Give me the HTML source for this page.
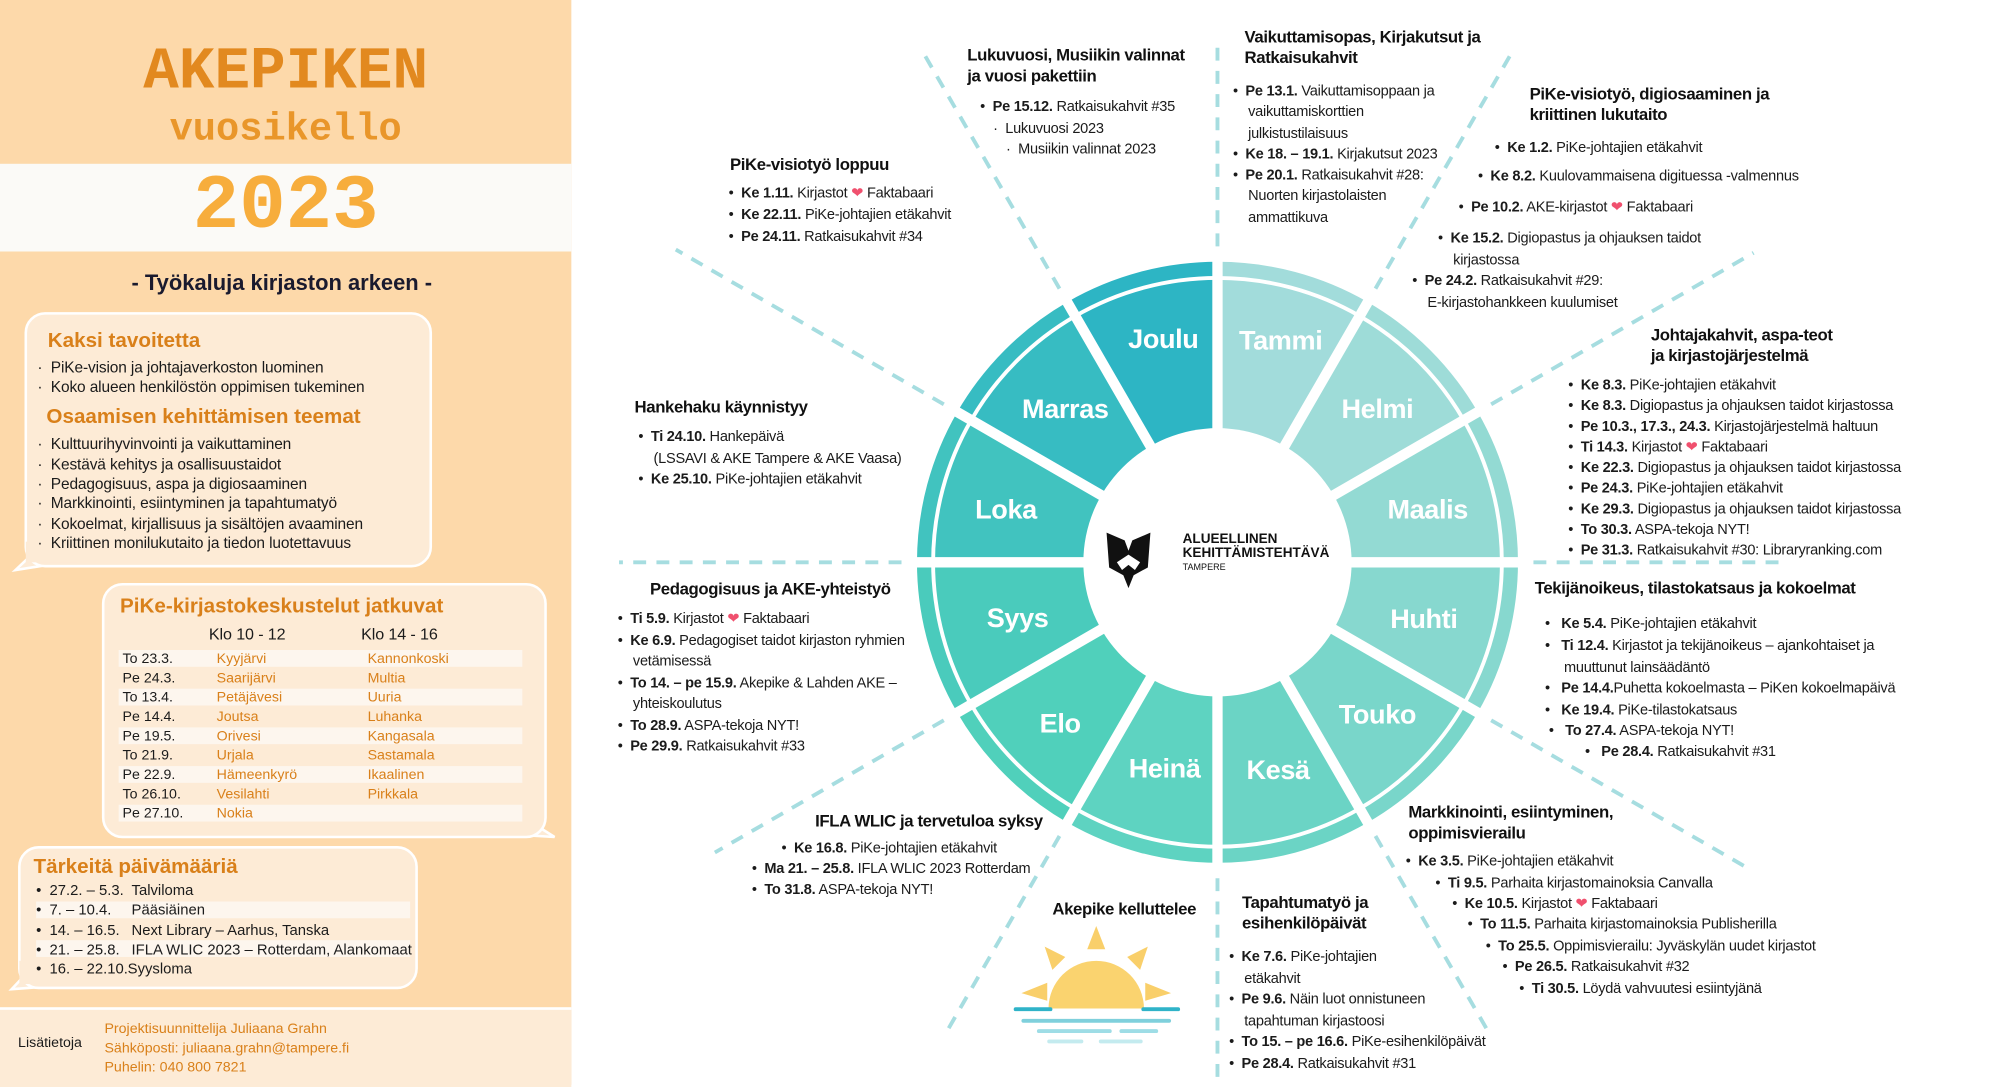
<!DOCTYPE html>
<html><head><meta charset="utf-8">
<style>
html,body{margin:0;padding:0;background:#fff;}
body{width:1999px;height:1084px;overflow:hidden;position:relative;}
#s{position:absolute;left:0;top:0;width:1550px;height:841px;transform:scale(1.2897);transform-origin:0 0;font-family:"Liberation Sans",sans-serif;color:#1b1b1b;}
.a{position:absolute;white-space:nowrap;}
.t{position:absolute;white-space:nowrap;font-size:11.3px;line-height:14px;letter-spacing:-0.2px;}
.t b{font-weight:bold;}
.hd{position:absolute;white-space:nowrap;font-size:13px;line-height:16px;font-weight:bold;letter-spacing:-0.3px;color:#111;}
.h{color:#f0506e;}
.m{position:absolute;transform:translate(-50%,-50%);color:#fff;font-weight:bold;font-size:21px;letter-spacing:-0.3px;white-space:nowrap;}
.lp{font-size:12px;line-height:14px;letter-spacing:-0.1px;}
.or{color:#d9801a;}
.box{position:absolute;background:#fdebd6;border:2px solid #fff;border-radius:16px;}
.stripe{position:absolute;background:#fdf6ee;height:13px;}
</style></head><body>
<div id="s">
<!-- left panel -->
<div class="a" style="left:0;top:0;width:443px;height:841px;background:#fdd9aa;"></div>
<div class="a" style="left:0;top:127px;width:443px;height:68px;background:#fbfaf7;"></div>
<div class="a" style="left:0;top:781px;width:443px;height:60px;background:#fdebd6;border-top:2px solid #fff;"></div>
<div class="a" style="left:0;width:443px;text-align:center;top:30px;font-family:'Liberation Mono',monospace;font-weight:bold;font-size:46px;line-height:52px;color:#e2891f;">AKEPIKEN</div>
<div class="a" style="left:0;width:443px;text-align:center;top:84px;font-family:'Liberation Mono',monospace;font-weight:bold;font-size:30px;line-height:34px;color:#e9962a;">vuosikello</div>
<div class="a" style="left:0;width:443px;text-align:center;top:126px;font-family:'Liberation Mono',monospace;font-weight:bold;font-size:60px;line-height:70px;color:#f7ad3c;">2023</div>
<div class="a" style="left:0;width:437px;text-align:center;top:209px;font-weight:bold;font-size:17px;line-height:22px;color:#1a1a2e;">- Työkaluja kirjaston arkeen -</div>

<svg class="a" style="left:0;top:0" width="443" height="841">
<polygon points="30,425 12,442 50,436" fill="#fdebd6" stroke="#fff" stroke-width="2"/>
<polygon points="400,630 430,649 380,646" fill="#fdebd6" stroke="#fff" stroke-width="2"/>
<polygon points="25,750 9,767 50,764" fill="#fdebd6" stroke="#fff" stroke-width="2"/>
</svg>
<div class="box" style="left:19px;top:242px;width:312px;height:194px;"></div>
<div class="box" style="left:79px;top:452px;width:341px;height:194px;"></div>
<div class="box" style="left:14px;top:656px;width:306px;height:107px;"></div>
<svg class="a" style="left:0;top:0" width="443" height="841">
<rect x="20" y="420" width="40" height="16" fill="#fdebd6"/>
<rect x="370" y="620" width="45" height="26" fill="#fdebd6"/>
<rect x="15" y="745" width="40" height="18" fill="#fdebd6"/>
</svg>

<div class="a or" style="left:37px;top:256px;font-weight:bold;font-size:16px;line-height:18px;">Kaksi tavoitetta</div>
<div class="a lp" style="left:29px;top:278px;">·&nbsp;&nbsp;PiKe-vision ja johtajaverkoston luominen</div>
<div class="a lp" style="left:29px;top:293px;">·&nbsp;&nbsp;Koko alueen henkilöstön oppimisen tukeminen</div>
<div class="a or" style="left:36px;top:315px;font-weight:bold;font-size:16px;line-height:18px;">Osaamisen kehittämisen teemat</div>
<div class="a lp" style="left:29px;top:337px;">·&nbsp;&nbsp;Kulttuurihyvinvointi ja vaikuttaminen</div>
<div class="a lp" style="left:29px;top:353px;">·&nbsp;&nbsp;Kestävä kehitys ja osallisuustaidot</div>
<div class="a lp" style="left:29px;top:368px;">·&nbsp;&nbsp;Pedagogisuus, aspa ja digiosaaminen</div>
<div class="a lp" style="left:29px;top:383px;">·&nbsp;&nbsp;Markkinointi, esiintyminen ja tapahtumatyö</div>
<div class="a lp" style="left:29px;top:399px;">·&nbsp;&nbsp;Kokoelmat, kirjallisuus ja sisältöjen avaaminen</div>
<div class="a lp" style="left:29px;top:414px;">·&nbsp;&nbsp;Kriittinen monilukutaito ja tiedon luotettavuus</div>

<div class="a or" style="left:93px;top:462px;font-weight:bold;font-size:16px;line-height:18px;">PiKe-kirjastokeskustelut jatkuvat</div>
<div class="a lp" style="left:162px;top:485px;font-size:12.5px;">Klo 10 - 12</div>
<div class="a lp" style="left:280px;top:485px;font-size:12.5px;">Klo 14 - 16</div>
<div class="stripe" style="left:92px;top:504px;width:313px;"></div>
<div class="stripe" style="left:92px;top:534px;width:313px;"></div>
<div class="stripe" style="left:92px;top:564px;width:313px;"></div>
<div class="stripe" style="left:92px;top:594px;width:313px;"></div>
<div class="stripe" style="left:92px;top:624px;width:313px;"></div>
<div class="a" style="left:95px;top:504px;font-size:11px;line-height:15px;">To 23.3.<br>Pe 24.3.<br>To 13.4.<br>Pe 14.4.<br>Pe 19.5.<br>To 21.9.<br>Pe 22.9.<br>To 26.10.<br>Pe 27.10.</div>
<div class="a or" style="left:168px;top:504px;font-size:11px;line-height:15px;">Kyyjärvi<br>Saarijärvi<br>Petäjävesi<br>Joutsa<br>Orivesi<br>Urjala<br>Hämeenkyrö<br>Vesilahti<br>Nokia</div>
<div class="a or" style="left:285px;top:504px;font-size:11px;line-height:15px;">Kannonkoski<br>Multia<br>Uuria<br>Luhanka<br>Kangasala<br>Sastamala<br>Ikaalinen<br>Pirkkala</div>

<div class="a or" style="left:26px;top:664px;font-weight:bold;font-size:16px;line-height:18px;">Tärkeitä päivämääriä</div>
<div class="stripe" style="left:28px;top:699px;width:290px;"></div>
<div class="stripe" style="left:28px;top:729px;width:290px;"></div>
<div class="a" style="left:28px;top:684px;font-size:11.5px;line-height:15.3px;">•&nbsp; 27.2. – 5.3.<br>•&nbsp; 7. – 10.4.<br>•&nbsp; 14. – 16.5.<br>•&nbsp; 21. – 25.8.<br>•&nbsp; 16. – 22.10.</div>
<div class="a" style="left:102px;top:684px;font-size:11.5px;line-height:15.3px;">Talviloma<br>Pääsiäinen<br>Next Library – Aarhus, Tanska<br>IFLA WLIC 2023 – Rotterdam, Alankomaat</div>
<div class="a" style="left:99px;top:745px;font-size:11.5px;line-height:15.3px;">Syysloma</div>

<div class="a" style="left:14px;top:803px;font-size:11px;">Lisätietoja</div>
<div class="a or" style="left:81px;top:791px;font-size:11px;line-height:15px;">Projektisuunnittelija Juliaana Grahn<br>Sähköposti: juliaana.grahn@tampere.fi<br>Puhelin: 040 800 7821</div>

<!-- wheel -->
<svg class="a" style="left:0;top:0" width="1550" height="841">
<defs><clipPath id="cp"><rect x="446" y="0" width="1104" height="841"/></clipPath></defs>
<g clip-path="url(#cp)" stroke="#a6dde0" stroke-width="3" stroke-dasharray="10 8" fill="none">
<line x1="944" y1="191" x2="944" y2="30"/>
<line x1="1066.5" y1="223.8" x2="1171.5" y2="42"/>
<line x1="1156.2" y1="313.5" x2="1359.7" y2="196"/>
<line x1="1189" y1="436" x2="1386" y2="436"/>
<line x1="1156.2" y1="558.5" x2="1355" y2="673"/>
<line x1="1066.5" y1="648.2" x2="1154" y2="800"/>
<line x1="944" y1="681" x2="944" y2="836"/>
<line x1="821.5" y1="648.2" x2="734" y2="800"/>
<line x1="731.8" y1="558.5" x2="554.3" y2="661"/>
<line x1="699" y1="436" x2="480" y2="436"/>
<line x1="731.8" y1="313.5" x2="524" y2="193.5"/>
<line x1="821.5" y1="223.8" x2="714" y2="37.6"/>
</g>
<g fill="none" stroke-width="116">
<circle cx="944" cy="436" r="161" stroke="#a2dcdb" stroke-dasharray="84.3 2000" transform="rotate(-90 944 436)"/>
<circle cx="944" cy="436" r="161" stroke="#9edcd8" stroke-dasharray="84.3 2000" transform="rotate(-60 944 436)"/>
<circle cx="944" cy="436" r="161" stroke="#93dad3" stroke-dasharray="84.3 2000" transform="rotate(-30 944 436)"/>
<circle cx="944" cy="436" r="161" stroke="#87d8cf" stroke-dasharray="84.3 2000" transform="rotate(0 944 436)"/>
<circle cx="944" cy="436" r="161" stroke="#79d6ca" stroke-dasharray="84.3 2000" transform="rotate(30 944 436)"/>
<circle cx="944" cy="436" r="161" stroke="#6bd4c5" stroke-dasharray="84.3 2000" transform="rotate(60 944 436)"/>
<circle cx="944" cy="436" r="161" stroke="#5ed3c1" stroke-dasharray="84.3 2000" transform="rotate(90 944 436)"/>
<circle cx="944" cy="436" r="161" stroke="#50d0bb" stroke-dasharray="84.3 2000" transform="rotate(120 944 436)"/>
<circle cx="944" cy="436" r="161" stroke="#4acbbc" stroke-dasharray="84.3 2000" transform="rotate(150 944 436)"/>
<circle cx="944" cy="436" r="161" stroke="#41c3bf" stroke-dasharray="84.3 2000" transform="rotate(180 944 436)"/>
<circle cx="944" cy="436" r="161" stroke="#37bcc2" stroke-dasharray="84.3 2000" transform="rotate(210 944 436)"/>
<circle cx="944" cy="436" r="161" stroke="#2db5c4" stroke-dasharray="84.3 2000" transform="rotate(240 944 436)"/>
</g>
<g fill="none" stroke-width="11">
<circle cx="944" cy="436" r="227.5" stroke="#a2dcdb" stroke-dasharray="119.1 2000" transform="rotate(-90 944 436)"/>
<circle cx="944" cy="436" r="227.5" stroke="#9edcd8" stroke-dasharray="119.1 2000" transform="rotate(-60 944 436)"/>
<circle cx="944" cy="436" r="227.5" stroke="#93dad3" stroke-dasharray="119.1 2000" transform="rotate(-30 944 436)"/>
<circle cx="944" cy="436" r="227.5" stroke="#87d8cf" stroke-dasharray="119.1 2000" transform="rotate(0 944 436)"/>
<circle cx="944" cy="436" r="227.5" stroke="#79d6ca" stroke-dasharray="119.1 2000" transform="rotate(30 944 436)"/>
<circle cx="944" cy="436" r="227.5" stroke="#6bd4c5" stroke-dasharray="119.1 2000" transform="rotate(60 944 436)"/>
<circle cx="944" cy="436" r="227.5" stroke="#5ed3c1" stroke-dasharray="119.1 2000" transform="rotate(90 944 436)"/>
<circle cx="944" cy="436" r="227.5" stroke="#50d0bb" stroke-dasharray="119.1 2000" transform="rotate(120 944 436)"/>
<circle cx="944" cy="436" r="227.5" stroke="#4acbbc" stroke-dasharray="119.1 2000" transform="rotate(150 944 436)"/>
<circle cx="944" cy="436" r="227.5" stroke="#41c3bf" stroke-dasharray="119.1 2000" transform="rotate(180 944 436)"/>
<circle cx="944" cy="436" r="227.5" stroke="#37bcc2" stroke-dasharray="119.1 2000" transform="rotate(210 944 436)"/>
<circle cx="944" cy="436" r="227.5" stroke="#2db5c4" stroke-dasharray="119.1 2000" transform="rotate(240 944 436)"/>
</g>
<g stroke="#fff" stroke-width="8">
<line x1="944" y1="196" x2="944" y2="676"/>
<line x1="1064" y1="228.2" x2="824" y2="643.8"/>
<line x1="1151.8" y1="316" x2="736.2" y2="556"/>
<line x1="1184" y1="436" x2="704" y2="436"/>
<line x1="1151.8" y1="556" x2="736.2" y2="316"/>
<line x1="1064" y1="643.8" x2="824" y2="228.2"/>
</g>
<circle cx="944" cy="436" r="104" fill="#fff"/>
<path d="M858,413 L872,419 L875,427 L878,419 L892,413 L890,440 L879,446 L875,456 L871,446 L860,440 Z" fill="#111"/>
<path d="M866,436 L875,430 L884,436 L880,442 L875,438 L870,442 Z" fill="#fff"/>
<!-- sun -->
<g transform="translate(850,782)">
<polygon points="0,-64 -7,-46 7,-46" fill="#f9cf6a"/>
<polygon points="-40,-48 -34,-30 -24,-40" fill="#f9cf6a"/>
<polygon points="40,-48 34,-30 24,-40" fill="#f9cf6a"/>
<polygon points="-58,-12 -38,-20 -38,-6" fill="#f9cf6a"/>
<polygon points="58,-12 38,-20 38,-6" fill="#f9cf6a"/>
<path d="M-37,0 A37,37 0 0 1 37,0 Z" fill="#fad36f"/>
<rect x="-64" y="-1" width="30" height="3" rx="1.5" fill="#2fb3c8"/>
<rect x="35" y="-1" width="30" height="3" rx="1.5" fill="#2fb3c8"/>
<rect x="-58" y="8" width="116" height="3" rx="1.5" fill="#7fd0dc"/>
<rect x="-46" y="16" width="58" height="3" rx="1.5" fill="#9edde6"/>
<rect x="18" y="16" width="30" height="3" rx="1.5" fill="#9edde6"/>
<rect x="-38" y="24" width="28" height="3" rx="1.5" fill="#c4ebef"/>
<rect x="2" y="24" width="34" height="3" rx="1.5" fill="#c4ebef"/>
</g>
</svg>
<div class="a" style="left:917px;top:413px;font-weight:bold;font-size:10.5px;line-height:11px;color:#111;">ALUEELLINEN<br>KEHITTÄMISTEHTÄVÄ</div>
<div class="a" style="left:917px;top:437px;font-size:7px;line-height:8px;color:#111;">TAMPERE</div>

<div class="m" style="left:993px;top:265px;">Tammi</div>
<div class="m" style="left:1068px;top:318px;">Helmi</div>
<div class="m" style="left:1107px;top:396px;">Maalis</div>
<div class="m" style="left:1104px;top:481px;">Huhti</div>
<div class="m" style="left:1068px;top:555px;">Touko</div>
<div class="m" style="left:991px;top:598px;">Kesä</div>
<div class="m" style="left:903px;top:597px;">Heinä</div>
<div class="m" style="left:822px;top:562px;">Elo</div>
<div class="m" style="left:789px;top:480px;">Syys</div>
<div class="m" style="left:780px;top:396px;">Loka</div>
<div class="m" style="left:826px;top:318px;">Marras</div>
<div class="m" style="left:902px;top:264px;">Joulu</div>

<!-- texts -->
<div class="hd" style="left:750px;top:35px;">Lukuvuosi, Musiikin valinnat<br>ja vuosi pakettiin</div>
<div class="t" style="left:760px;top:76px;">•&nbsp; <b>Pe 15.12.</b> Ratkaisukahvit #35</div>
<div class="t" style="left:770px;top:93px;">·&nbsp; Lukuvuosi 2023</div>
<div class="t" style="left:780px;top:109px;">·&nbsp; Musiikin valinnat 2023</div>

<div class="hd" style="left:965px;top:21px;">Vaikuttamisopas, Kirjakutsut ja<br>Ratkaisukahvit</div>
<div class="t" style="left:956px;top:63px;line-height:16.3px;">•&nbsp; <b>Pe 13.1.</b> Vaikuttamisoppaan ja<br>&nbsp;&nbsp;&nbsp; vaikuttamiskorttien<br>&nbsp;&nbsp;&nbsp; julkistustilaisuus<br>•&nbsp; <b>Ke 18. – 19.1.</b> Kirjakutsut 2023<br>•&nbsp; <b>Pe 20.1.</b> Ratkaisukahvit #28:<br>&nbsp;&nbsp;&nbsp; Nuorten kirjastolaisten<br>&nbsp;&nbsp;&nbsp; ammattikuva</div>

<div class="hd" style="left:1186px;top:65px;">PiKe-visiotyö, digiosaaminen ja<br>kriittinen lukutaito</div>
<div class="t" style="left:1159px;top:108px;">•&nbsp; <b>Ke 1.2.</b> PiKe-johtajien etäkahvit</div>
<div class="t" style="left:1146px;top:130px;">•&nbsp; <b>Ke 8.2.</b> Kuulovammaisena digituessa -valmennus</div>
<div class="t" style="left:1131px;top:154px;">•&nbsp; <b>Pe 10.2.</b> AKE-kirjastot <span class="h">❤</span> Faktabaari</div>
<div class="t" style="left:1115px;top:177px;line-height:16.5px;">•&nbsp; <b>Ke 15.2.</b> Digiopastus ja ohjauksen taidot<br>&nbsp;&nbsp;&nbsp; kirjastossa</div>
<div class="t" style="left:1095px;top:210px;line-height:16.5px;">•&nbsp; <b>Pe 24.2.</b> Ratkaisukahvit #29:<br>&nbsp;&nbsp;&nbsp; E-kirjastohankkeen kuulumiset</div>

<div class="hd" style="left:1280px;top:252px;">Johtajakahvit, aspa-teot<br>ja kirjastojärjestelmä</div>
<div class="t" style="left:1216px;top:291px;line-height:16px;">•&nbsp; <b>Ke 8.3.</b> PiKe-johtajien etäkahvit<br>•&nbsp; <b>Ke 8.3.</b> Digiopastus ja ohjauksen taidot kirjastossa<br>•&nbsp; <b>Pe 10.3., 17.3., 24.3.</b> Kirjastojärjestelmä haltuun<br>•&nbsp; <b>Ti 14.3.</b> Kirjastot <span class="h">❤</span> Faktabaari<br>•&nbsp; <b>Ke 22.3.</b> Digiopastus ja ohjauksen taidot kirjastossa<br>•&nbsp; <b>Pe 24.3.</b> PiKe-johtajien etäkahvit<br>•&nbsp; <b>Ke 29.3.</b> Digiopastus ja ohjauksen taidot kirjastossa<br>•&nbsp; <b>To 30.3.</b> ASPA-tekoja NYT!<br>•&nbsp; <b>Pe 31.3.</b> Ratkaisukahvit #30: Libraryranking.com</div>

<div class="hd" style="left:1190px;top:448px;">Tekijänoikeus, tilastokatsaus ja kokoelmat</div>
<div class="t" style="left:1198px;top:476px;line-height:16.8px;">•&nbsp;&nbsp; <b>Ke 5.4.</b> PiKe-johtajien etäkahvit<br>•&nbsp;&nbsp; <b>Ti 12.4.</b> Kirjastot ja tekijänoikeus – ajankohtaiset ja<br>&nbsp;&nbsp;&nbsp;&nbsp; muuttunut lainsäädäntö<br>•&nbsp;&nbsp; <b>Pe 14.4.</b>Puhetta kokoelmasta – PiKen kokoelmapäivä<br>•&nbsp;&nbsp; <b>Ke 19.4.</b> PiKe-tilastokatsaus</div>
<div class="t" style="left:1201px;top:560px;">•&nbsp;&nbsp; <b>To 27.4.</b> ASPA-tekoja NYT!</div>
<div class="t" style="left:1229px;top:576px;">•&nbsp;&nbsp; <b>Pe 28.4.</b> Ratkaisukahvit #31</div>

<div class="hd" style="left:1092px;top:622px;">Markkinointi, esiintyminen,<br>oppimisvierailu</div>
<div class="t" style="left:1090px;top:661px;">•&nbsp; <b>Ke 3.5.</b> PiKe-johtajien etäkahvit</div>
<div class="t" style="left:1113px;top:678px;">•&nbsp; <b>Ti 9.5.</b> Parhaita kirjastomainoksia Canvalla</div>
<div class="t" style="left:1126px;top:694px;">•&nbsp; <b>Ke 10.5.</b> Kirjastot <span class="h">❤</span> Faktabaari</div>
<div class="t" style="left:1138px;top:710px;">•&nbsp; <b>To 11.5.</b> Parhaita kirjastomainoksia Publisherilla</div>
<div class="t" style="left:1152px;top:727px;">•&nbsp; <b>To 25.5.</b> Oppimisvierailu: Jyväskylän uudet kirjastot</div>
<div class="t" style="left:1165px;top:743px;">•&nbsp; <b>Pe 26.5.</b> Ratkaisukahvit #32</div>
<div class="t" style="left:1178px;top:760px;">•&nbsp; <b>Ti 30.5.</b> Löydä vahvuutesi esiintyjänä</div>

<div class="hd" style="left:963px;top:692px;">Tapahtumatyö ja<br>esihenkilöpäivät</div>
<div class="t" style="left:953px;top:734px;line-height:16.5px;">•&nbsp; <b>Ke 7.6.</b> PiKe-johtajien<br>&nbsp;&nbsp;&nbsp; etäkahvit<br>•&nbsp; <b>Pe 9.6.</b> Näin luot onnistuneen<br>&nbsp;&nbsp;&nbsp; tapahtuman kirjastoosi<br>•&nbsp; <b>To 15. – pe 16.6.</b> PiKe-esihenkilöpäivät<br>•&nbsp; <b>Pe 28.4.</b> Ratkaisukahvit #31</div>

<div class="hd" style="left:816px;top:697px;">Akepike kelluttelee</div>

<div class="hd" style="left:632px;top:629px;">IFLA WLIC ja tervetuloa syksy</div>
<div class="t" style="left:606px;top:651px;">•&nbsp; <b>Ke 16.8.</b> PiKe-johtajien etäkahvit</div>
<div class="t" style="left:583px;top:667px;">•&nbsp; <b>Ma 21. – 25.8.</b> IFLA WLIC 2023 Rotterdam</div>
<div class="t" style="left:583px;top:683px;">•&nbsp; <b>To 31.8.</b> ASPA-tekoja NYT!</div>

<div class="hd" style="left:504px;top:449px;">Pedagogisuus ja AKE-yhteistyö</div>
<div class="t" style="left:479px;top:472px;line-height:16.5px;">•&nbsp; <b>Ti 5.9.</b> Kirjastot <span class="h">❤</span> Faktabaari<br>•&nbsp; <b>Ke 6.9.</b> Pedagogiset taidot kirjaston ryhmien<br>&nbsp;&nbsp;&nbsp; vetämisessä<br>•&nbsp; <b>To 14. – pe 15.9.</b> Akepike &amp; Lahden AKE –<br>&nbsp;&nbsp;&nbsp; yhteiskoulutus<br>•&nbsp; <b>To 28.9.</b> ASPA-tekoja NYT!<br>•&nbsp; <b>Pe 29.9.</b> Ratkaisukahvit #33</div>

<div class="hd" style="left:492px;top:308px;">Hankehaku käynnistyy</div>
<div class="t" style="left:495px;top:331px;line-height:16.5px;">•&nbsp; <b>Ti 24.10.</b> Hankepäivä<br>&nbsp;&nbsp;&nbsp; (LSSAVI &amp; AKE Tampere &amp; AKE Vaasa)<br>•&nbsp; <b>Ke 25.10.</b> PiKe-johtajien etäkahvit</div>

<div class="hd" style="left:566px;top:120px;">PiKe-visiotyö loppuu</div>
<div class="t" style="left:565px;top:142px;line-height:17px;">•&nbsp; <b>Ke 1.11.</b> Kirjastot <span class="h">❤</span> Faktabaari<br>•&nbsp; <b>Ke 22.11.</b> PiKe-johtajien etäkahvit<br>•&nbsp; <b>Pe 24.11.</b> Ratkaisukahvit #34</div>
</div>
</body></html>
